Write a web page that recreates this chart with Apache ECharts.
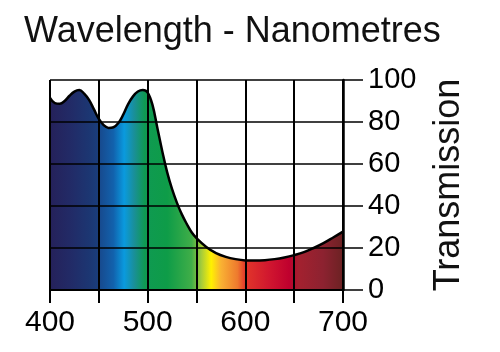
<!DOCTYPE html>
<html>
<head>
<meta charset="utf-8">
<script src="https://cdn.jsdelivr.net/npm/echarts@6/dist/echarts.min.js"></script>
<style>
  html, body { margin: 0; padding: 0; background: #fff; }
  #chart { width: 500px; height: 352px; }
</style>
</head>
<body>
<div id="chart"></div>
<script>
// wavelength (nm) and transmission (%)
const wavelengths = [400, 405, 410, 415, 420, 425, 430, 435, 440, 445, 450, 455, 460, 465, 470, 475, 480, 485, 490, 495,
  500, 505, 510, 515, 520, 525, 530, 535, 540, 545, 550, 560, 570, 580, 590, 600, 610, 620, 630, 640, 650, 660, 670, 680, 690, 700];
const transmission = [91.5, 89, 88.7, 90, 92.5, 94.5, 95.2, 93.5, 90.5, 86, 81.5, 78.5, 77.2, 77.5, 79.5, 83.5, 88.5, 92.2, 94.5, 95.2,
  94, 88, 77, 66, 56, 48, 41.5, 36, 31.5, 27.5, 24.7, 20.5, 17.6, 15.8, 14.7, 14.1, 14, 14.2, 14.7, 15.5, 16.6, 18, 20, 22.3, 25, 27.8];
const xLabels = [400, 500, 600, 700];
const yTicks = [0, 20, 40, 60, 80, 100];

// spectrum colours along the x range
const spectrumStops = [
  [400, '#25215a'], [420, '#222a66'], [440, '#1c3672'], [449, '#1a3d7c'], [451, '#174a8e'],
  [465, '#1262ad'], [476, '#0a9ade'], [486, '#1a8f9a'], [497, '#0f9a52'], [520, '#0e9c48'],
  [545, '#40ae48'], [555, '#a6cc3a'], [565, '#fff100'], [575, '#f9b233'], [592, '#ee7a2e'],
  [600, '#e2362a'], [625, '#d0162f'], [645, '#bf002e'], [655, '#a3212f'], [680, '#8c2230'],
  [700, '#6b2223']
];

const chart = echarts.init(document.getElementById('chart'));
const font = 'Liberation Sans, Arial, Helvetica, sans-serif';

chart.setOption({
  animation: false,
  title: {
    text: 'Wavelength - Nanometres',
    left: 24, top: 14, padding: 0,
    textStyle: { fontFamily: font, fontSize: 36, fontWeight: 'normal', color: '#111' }
  },
  grid: { left: 50, top: 80, width: 293, height: 210 },
  xAxis: {
    type: 'value', min: 400, max: 700, interval: 50, z: 5,
    axisLine: { show: true, lineStyle: { color: '#000', width: 2 } },
    axisTick: { show: true, length: 13, lineStyle: { color: '#000', width: 2 } },
    axisLabel: {
      margin: 18, color: '#000', fontFamily: font, fontSize: 30,
      formatter: v => xLabels.includes(v) ? String(v) : ''
    },
    splitLine: { show: true, lineStyle: { color: '#000', width: 2 } }
  },
  yAxis: {
    type: 'value', position: 'right', min: 0, max: 100, interval: 20, z: 5,
    name: 'Transmission', nameLocation: 'middle', nameRotate: 90, nameGap: 88,
    nameTextStyle: { fontFamily: font, fontSize: 36, color: '#111' },
    axisLine: { show: true, lineStyle: { color: '#000', width: 2.5 } },
    axisTick: { show: true, length: 20, lineStyle: { color: '#000', width: 1.5 } },
    axisLabel: {
      margin: 25, color: '#000', fontFamily: font, fontSize: 29,
      formatter: v => yTicks.includes(v) ? String(v) : ''
    },
    splitLine: { show: true, lineStyle: { color: '#000', width: 1.5 } }
  },
  series: [{
    type: 'line',
    data: wavelengths.map((w, i) => [w, transmission[i]]),
    smooth: 0.4,
    symbol: 'none',
    z: 2,
    lineStyle: { color: '#000', width: 2.5 },
    areaStyle: {
      opacity: 1,
      color: new echarts.graphic.LinearGradient(0, 0, 1, 0,
        spectrumStops.map(s => ({ offset: (s[0] - 400) / 300, color: s[1] })))
    }
  }]
});
</script>
</body>
</html>
